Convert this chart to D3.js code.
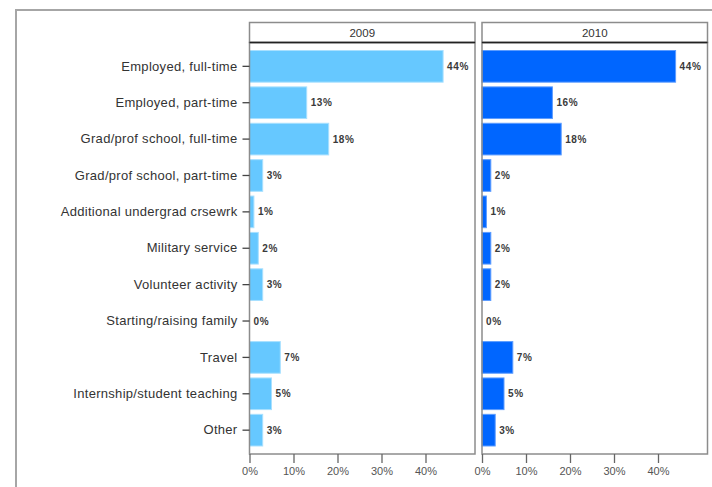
<!DOCTYPE html>
<html>
<head>
<meta charset="utf-8">
<script src="https://cdn.jsdelivr.net/npm/d3@7"></script>
<style>
  body { margin: 0; background: #fff; }
  text { font-family: "Liberation Sans", Arial, sans-serif; }
</style>
</head>
<body>
<script>
var categories = [
    "Employed, full-time",
    "Employed, part-time",
    "Grad/prof school, full-time",
    "Grad/prof school, part-time",
    "Additional undergrad crsewrk",
    "Military service",
    "Volunteer activity",
    "Starting/raising family",
    "Travel",
    "Internship/student teaching",
    "Other"
];
var years = ["2009", "2010"];
var values2009 = [44, 13, 18, 3, 1, 2, 3, 0, 7, 5, 3];
var values2010 = [44, 16, 18, 2, 1, 2, 2, 0, 7, 5, 3];
var xTicks = [0, 10, 20, 30, 40];

var svgWidth = 712,
    svgHeight = 487;

var svg = d3.select("body").append("svg")
    .attr("width", svgWidth)
    .attr("height", svgHeight);

// outer frame (runs off the right and bottom edge)
svg.append("rect")
    .attr("x", 16).attr("y", 10)
    .attr("width", 740).attr("height", 520)
    .attr("fill", "none")
    .attr("stroke", "#a6a6a6")
    .attr("stroke-width", 2);

var plotTop = 42.5,
    plotBottom = 454,
    headerTop = 22.5,
    panelWidth = 225.5;
var panelX = [249.5, 482];

var panels = [
    {year: years[0], values: values2009, fill: "#66c8ff", stroke: "#a8e0ff"},
    {year: years[1], values: values2010, fill: "#0066ff", stroke: "#5c9cff"}
];

var y = d3.scaleBand()
    .domain(categories)
    .range([plotTop, plotBottom])
    .paddingInner(0.13)
    .paddingOuter(0.22);

var x = d3.scaleLinear()
    .domain([0, 51.25])
    .range([0, panelWidth]);

panels.forEach(function(p, i) {
    var g = svg.append("g")
        .attr("transform", "translate(" + panelX[i] + ",0)");

    // header strip
    g.append("rect")
        .attr("x", 0).attr("y", headerTop)
        .attr("width", panelWidth).attr("height", plotTop - headerTop)
        .attr("fill", "#fff")
        .attr("stroke", "#8c8c8c")
        .attr("stroke-width", 1.5);
    g.append("text")
        .attr("x", panelWidth / 2)
        .attr("y", (headerTop + plotTop) / 2)
        .attr("dy", "0.35em")
        .attr("text-anchor", "middle")
        .attr("fill", "#333")
        .style("font-size", "11.5px")
        .text(p.year);

    // bars
    g.selectAll("rect.bar")
        .data(p.values)
        .enter().append("rect")
        .attr("class", "bar")
        .attr("x", x(0))
        .attr("y", (d, j) => y(categories[j]))
        .attr("width", d => x(d))
        .attr("height", y.bandwidth())
        .attr("fill", p.fill)
        .attr("stroke", d => d > 0 ? p.stroke : "none")
        .attr("stroke-width", 1);

    // value labels
    g.selectAll("text.val")
        .data(p.values)
        .enter().append("text")
        .attr("class", "val")
        .attr("x", d => x(d) + 4)
        .attr("y", (d, j) => y(categories[j]) + y.bandwidth() / 2)
        .attr("dy", "0.35em")
        .attr("fill", "#3a3a3a")
        .style("font-size", "10px")
        .style("font-weight", "bold")
        .style("letter-spacing", "0.6px")
        .text(d => d + "%");

    // panel frame
    g.append("rect")
        .attr("x", 0).attr("y", plotTop)
        .attr("width", panelWidth).attr("height", plotBottom - plotTop)
        .attr("fill", "none")
        .attr("stroke", "#8c8c8c")
        .attr("stroke-width", 1.5);
    g.append("line")
        .attr("x1", 0).attr("x2", panelWidth)
        .attr("y1", plotTop).attr("y2", plotTop)
        .attr("stroke", "#222")
        .attr("stroke-width", 1.5);

    // x axis
    var xa = g.append("g")
        .attr("transform", "translate(0," + plotBottom + ")")
        .call(d3.axisBottom(x).tickValues(xTicks).tickFormat(d => d + "%").tickSize(9).tickPadding(4));
    xa.select(".domain").remove();
    xa.selectAll("line").attr("stroke", "#666").attr("stroke-width", 1.3);
    xa.selectAll("text").attr("fill", "#555").style("font-size", "11px")
        .style("font-family", "'Liberation Sans', Arial, sans-serif");

    // y axis only on first panel
    if (i === 0) {
        var ya = g.append("g")
            .call(d3.axisLeft(y).tickSize(7).tickPadding(5));
        ya.select(".domain").remove();
        ya.selectAll("line").attr("stroke", "#444").attr("stroke-width", 1.3);
        ya.selectAll("text").attr("fill", "#333").style("font-size", "13px")
            .style("letter-spacing", "0.3px")
            .style("font-family", "'Liberation Sans', Arial, sans-serif");
    }
});
</script>
</body>
</html>
